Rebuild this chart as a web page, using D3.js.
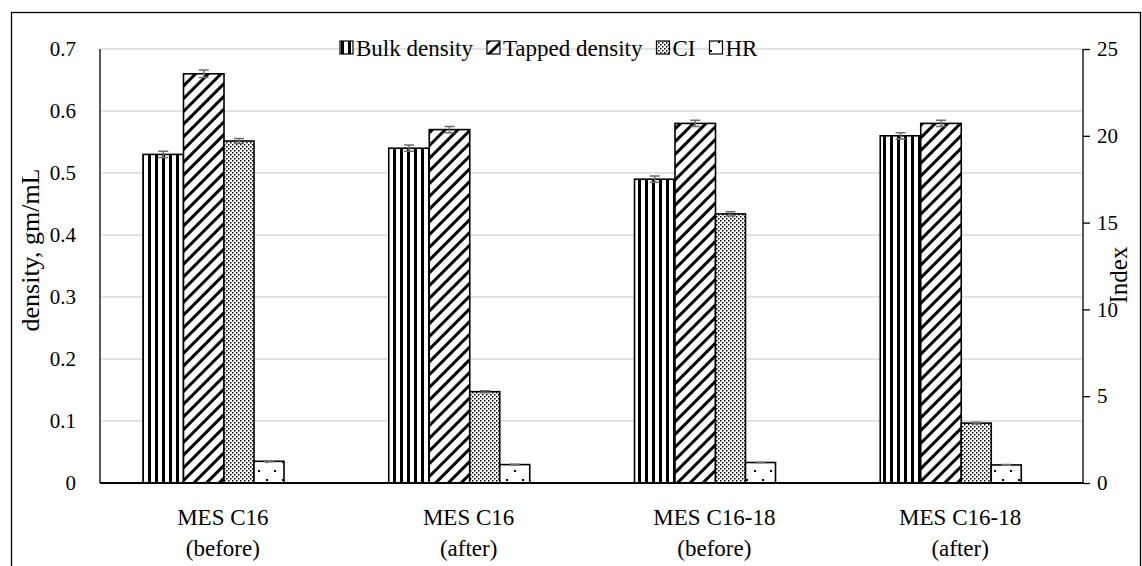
<!DOCTYPE html>
<html>
<head>
<meta charset="utf-8">
<script src="https://cdn.jsdelivr.net/npm/d3@7"></script>
<style>
	body { margin: 0; background: #fff; }
	svg text { font-family: "Liberation Serif", "DejaVu Serif", "Times New Roman", serif; fill: #000; }
</style>
</head>
<body>
<div id="chart"></div>
<script>
// categories (two text lines each)
var categories = ["MES C16|(before)", "MES C16|(after)", "MES C16-18|(before)", "MES C16-18|(after)"];

// density series, gm/mL (left axis)
var bulkDensity = [0.53, 0.54, 0.49, 0.56];
var tappedDensity = [0.66, 0.57, 0.58, 0.58];
var bulkErr = [0.005, 0.005, 0.005, 0.005];
var tappedErr = [0.006, 0.005, 0.005, 0.005];

// index series (right axis)
var ciIndex = [19.7, 5.26, 15.5, 3.45];
var hrIndex = [1.25, 1.06, 1.18, 1.04];
var ciErr = [0.15, 0.06, 0.12, 0.05];
var hrErr = [0.02, 0.02, 0.02, 0.02];

var leftTicks = [0, 0.1, 0.2, 0.3, 0.4, 0.5, 0.6, 0.7];
var rightTicks = [0, 5, 10, 15, 20, 25];

var legendNames = ["Bulk density", "Tapped density", "CI", "HR"];
var legendFills = ["url(#pVert)", "url(#pDiag)", "url(#pDots)", "url(#pSparse)"];

(function() {
	var width = 1142,
		height = 566,
		left = 100,
		right = 1083,
		top = 49,
		bottom = 483;

	var svg = d3.select("#chart").append("svg")
		.attr("width", width)
		.attr("height", height);

	// patterns
	var defs = svg.append("defs");
	var p = defs.append("pattern").attr("id", "pVert")
		.attr("patternUnits", "userSpaceOnUse").attr("width", 7).attr("height", 7);
	p.append("rect").attr("width", 7).attr("height", 7).attr("fill", "#fff");
	p.append("rect").attr("x", 1).attr("width", 3).attr("height", 7).attr("fill", "#000");

	p = defs.append("pattern").attr("id", "pDiag")
		.attr("patternUnits", "userSpaceOnUse").attr("width", 9).attr("height", 9)
		.attr("patternTransform", "rotate(45)");
	p.append("rect").attr("width", 9).attr("height", 9).attr("fill", "#fff");
	p.append("rect").attr("width", 3).attr("height", 9).attr("fill", "#000");

	p = defs.append("pattern").attr("id", "pDots")
		.attr("patternUnits", "userSpaceOnUse").attr("width", 4).attr("height", 4);
	p.append("rect").attr("width", 4).attr("height", 4).attr("fill", "#fff");
	p.append("rect").attr("x", 0).attr("y", 0).attr("width", 1.5).attr("height", 1.5).attr("fill", "#000");
	p.append("rect").attr("x", 2).attr("y", 2).attr("width", 1.5).attr("height", 1.5).attr("fill", "#000");

	p = defs.append("pattern").attr("id", "pSparse")
		.attr("patternUnits", "userSpaceOnUse").attr("width", 16).attr("height", 18);
	p.append("rect").attr("width", 16).attr("height", 18).attr("fill", "#fff");
	p.append("rect").attr("x", 2).attr("y", 2).attr("width", 2).attr("height", 2).attr("fill", "#000");
	p.append("rect").attr("x", 10).attr("y", 11).attr("width", 2).attr("height", 2).attr("fill", "#000");

	// outer frame
	svg.append("rect")
		.attr("x", 11.5).attr("y", 12.5)
		.attr("width", 1129).attr("height", 600)
		.attr("fill", "none").attr("stroke", "#000").attr("stroke-width", 1.3);

	var x = d3.scaleBand().domain(categories).range([left, right]);
	var yL = d3.scaleLinear().domain([0, 0.7]).range([bottom, top]);
	var yR = d3.scaleLinear().domain([0, 25]).range([bottom, top]);

	// bars inside a group: density pair wider, index pair narrower
	var xPrim = d3.scaleBand().domain([0, 1]).range([43, 124]);
	var xSec = d3.scaleBand().domain([0, 1]).range([124, 184]);

	// gridlines
	svg.append("g")
		.selectAll("line")
		.data(leftTicks.slice(1))
		.enter()
		.append("line")
		.attr("x1", left).attr("x2", right)
		.attr("y1", function(d) { return yL(d); })
		.attr("y2", function(d) { return yL(d); })
		.attr("stroke", "#d9d9d9").attr("stroke-width", 1.3);

	// left axis labels
	svg.append("g")
		.selectAll("text")
		.data(leftTicks)
		.enter()
		.append("text")
		.attr("x", 76)
		.attr("y", function(d) { return yL(d); })
		.attr("dy", "0.35em")
		.attr("text-anchor", "end")
		.style("font-size", "21px")
		.text(function(d) { return d === 0 ? "0" : d3.format(".1f")(d); });

	// right axis
	var rAxis = svg.append("g")
		.attr("transform", "translate(" + right + ",0)")
		.call(d3.axisRight(yR).tickValues(rightTicks).tickSize(7).tickPadding(7).tickFormat(d3.format("d")));
	rAxis.attr("font-family", null);
	rAxis.select(".domain").attr("stroke", "#000").attr("stroke-width", 1.3).attr("d", "M0," + top + "V" + bottom);
	rAxis.selectAll(".tick line").attr("stroke", "#000").attr("stroke-width", 1.3);
	rAxis.selectAll(".tick text")
		.style("font-size", "21px")
		.attr("fill", "#000");

	function addBars(values, errs, y, xs, idx, fill) {
		var g = svg.append("g");
		g.selectAll("rect")
			.data(values)
			.enter()
			.append("rect")
			.attr("x", function(d, i) { return x(categories[i]) + xs(idx); })
			.attr("y", function(d) { return y(d); })
			.attr("width", xs.bandwidth())
			.attr("height", function(d) { return y(0) - y(d); })
			.attr("fill", fill)
			.attr("stroke", "#000")
			.attr("stroke-width", 1.6);
		g.selectAll("path.err")
			.data(values)
			.enter()
			.append("path")
			.attr("class", "err")
			.attr("d", function(d, i) {
				var cx = x(categories[i]) + xs(idx) + xs.bandwidth() / 2,
					y1 = y(d + errs[i]),
					y0 = y(d - errs[i]);
				return "M" + (cx - 5) + "," + y1 + "H" + (cx + 5) +
					"M" + cx + "," + y1 + "V" + y0 +
					"M" + (cx - 5) + "," + y0 + "H" + (cx + 5);
			})
			.attr("fill", "none")
			.attr("stroke", "#6e6e6e")
			.attr("stroke-width", 1.5);
	}

	addBars(bulkDensity, bulkErr, yL, xPrim, 0, "url(#pVert)");
	addBars(tappedDensity, tappedErr, yL, xPrim, 1, "url(#pDiag)");
	addBars(ciIndex, ciErr, yR, xSec, 0, "url(#pDots)");
	addBars(hrIndex, hrErr, yR, xSec, 1, "url(#pSparse)");

	// left axis line and baseline
	svg.append("line")
		.attr("x1", left).attr("x2", left).attr("y1", top).attr("y2", bottom)
		.attr("stroke", "#000").attr("stroke-width", 1.3);
	svg.append("line")
		.attr("x1", left).attr("x2", right).attr("y1", bottom).attr("y2", bottom)
		.attr("stroke", "#000").attr("stroke-width", 2);

	// category labels
	var cat = svg.append("g")
		.selectAll("text")
		.data(categories)
		.enter()
		.append("text")
		.attr("text-anchor", "middle")
		.style("font-size", "23px");
	cat.each(function(d) {
		var t = d3.select(this),
			cx = x(d) + x.bandwidth() / 2;
		d.split("|").forEach(function(line, i) {
			t.append("tspan")
				.attr("x", cx)
				.attr("y", 525 + i * 31)
				.text(line);
		});
	});

	// axis titles
	svg.append("text")
		.attr("transform", "translate(39,250) rotate(-90)")
		.attr("text-anchor", "middle")
		.style("font-size", "26px")
		.text("density, gm/mL");
	svg.append("text")
		.attr("transform", "translate(1127,275) rotate(-90)")
		.attr("text-anchor", "middle")
		.style("font-size", "25px")
		.text("Index");

	// legend
	var legend = svg.append("g").attr("transform", "translate(340,48)");
	var lx = 0;
	legendNames.forEach(function(name, i) {
		legend.append("rect")
			.attr("x", lx).attr("y", -7)
			.attr("width", 13).attr("height", 13)
			.attr("fill", legendFills[i])
			.attr("stroke", "#000").attr("stroke-width", 1.2);
		var t = legend.append("text")
			.attr("x", lx + 16)
			.attr("y", 0)
			.attr("dy", "0.35em")
			.style("font-size", "23px")
			.text(name);
		lx += 16 + t.node().getComputedTextLength() + 14;
	});
}());
</script>
</body>
</html>
